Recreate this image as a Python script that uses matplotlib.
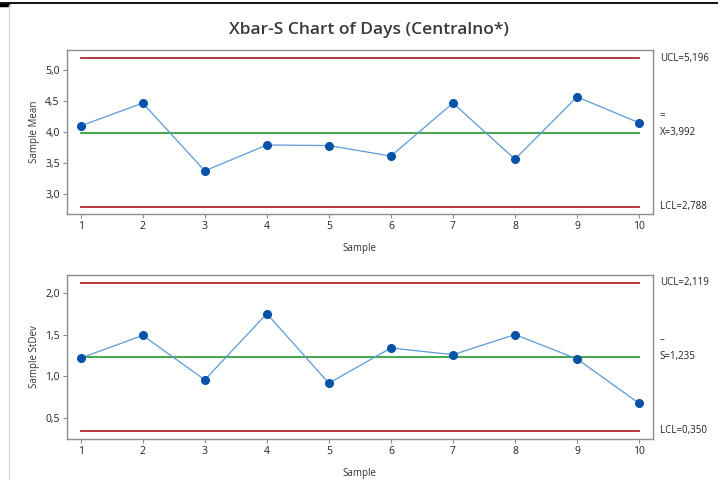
import matplotlib.pyplot as plt
from matplotlib.lines import Line2D

# data
samples = [1, 2, 3, 4, 5, 6, 7, 8, 9, 10]
means = [4.10, 4.47, 3.37, 3.79, 3.78, 3.61, 4.47, 3.56, 4.57, 4.15]
stdevs = [1.22, 1.49, 0.96, 1.75, 0.92, 1.34, 1.26, 1.50, 1.21, 0.68]
xbar_limits = [5.196, 3.992, 2.788]   # UCL, center, LCL
s_limits = [2.119, 1.235, 0.350]
xbar_ticks = [3.0, 3.5, 4.0, 4.5, 5.0]
s_ticks = [0.5, 1.0, 1.5, 2.0]

plt.rcParams['font.family'] = ['Open Sans', 'DejaVu Sans']

red = '#b0282e'
green = '#34a040'
blue_line = '#5b9bd9'
blue_dot = '#0552a8'
spine = '#8c8c8c'

fig = plt.figure(figsize=(7.18, 4.8), dpi=100)

# window frame bits from the screenshot
fig.add_artist(Line2D([0, 1], [1 - 3.3 / 480] * 2, color='black', lw=1.3))
fig.add_artist(Line2D([0, 8 / 718], [1 - 4.5 / 480] * 2, color='black', lw=2.5))
fig.add_artist(Line2D([9.3 / 718] * 2, [0, 1 - 5 / 480], color='#d8d8d8', lw=1))

fig.text(369 / 718, 1 - 30 / 480, 'Xbar-S Chart of Days (Centralno*)', ha='center',
         va='center', fontsize=12.5, fontweight='semibold', color='#3a3a3a')


def fmt(v, nd):
    return f'{v:.{nd}f}'.replace('.', ',')


def panel(rect, values, limits, ticks, ylim, ylabel, center_sym, center_name):
    ax = fig.add_axes(rect)
    ucl, cl, lcl = limits
    ax.plot([samples[0], samples[-1]], [ucl, ucl], color=red, lw=1.3)
    ax.plot([samples[0], samples[-1]], [lcl, lcl], color=red, lw=1.3)
    ax.plot([samples[0], samples[-1]], [cl, cl], color=green, lw=1.3)
    ax.plot(samples, values, color=blue_line, lw=0.9, marker='o', ms=5.5,
            mfc=blue_dot, mec=blue_dot)
    ax.set_xlim(0.774, 10.22)
    ax.set_ylim(*ylim)
    ax.set_xticks(samples)
    ax.set_xticklabels([str(s) for s in samples])
    ax.set_yticks(ticks)
    ax.set_yticklabels([fmt(t, 1) for t in ticks])
    for sp in ax.spines.values():
        sp.set_color(spine)
        sp.set_linewidth(1.0)
    ax.tick_params(labelsize=7.5, colors='#222222', length=3, width=0.8, pad=2)
    ax.tick_params(axis='both', color=spine)
    ax.set_ylabel(ylabel, fontsize=7, color='#333333', labelpad=4)
    ax.set_xlabel('Sample', fontsize=7, color='#333333', labelpad=8)

    tr = ax.get_yaxis_transform()
    ax.text(1.012, ucl, 'UCL=' + fmt(ucl, 3), transform=tr, fontsize=7, va='center',
            color='#222222', clip_on=False)
    ax.text(1.012, lcl, 'LCL=' + fmt(lcl, 3), transform=tr, fontsize=7, va='center',
            color='#222222', clip_on=False)
    ax.text(1.012, cl, center_name + '=' + fmt(cl, 3), transform=tr, fontsize=7,
            va='center', color='#222222', clip_on=False)
    ax.annotate(center_sym, xy=(1.012, cl), xycoords=tr, xytext=(0, 12),
                textcoords='offset points', fontsize=7, va='center', color='#222222')
    return ax


panel([66.7 / 718, 1 - 214.3 / 480, 586 / 718, 164.3 / 480], means, xbar_limits,
      xbar_ticks, (2.665, 5.331), 'Sample Mean', '=', 'X')
panel([66.7 / 718, 1 - 439.3 / 480, 586 / 718, 164.6 / 480], stdevs, s_limits,
      s_ticks, (0.251, 2.214), 'Sample StDev', '\u2013', 'S')

plt.savefig('out.png', dpi=100)
